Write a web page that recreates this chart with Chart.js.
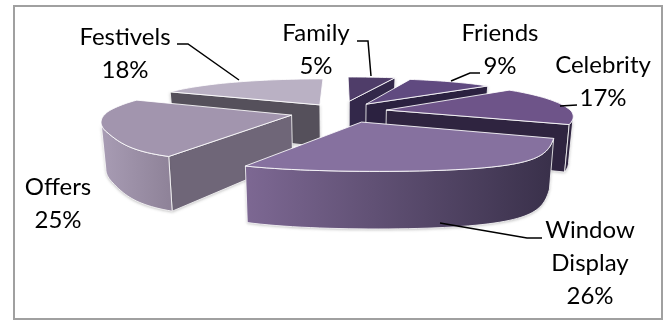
<!DOCTYPE html>
<html>
<head>
<meta charset="utf-8">
<title>Chart</title>
<script src="https://cdn.jsdelivr.net/npm/chart.js@4"></script>
<style>
  html, body { margin: 0; background: #fff; }
  canvas { display: block; }
</style>
</head>
<body>
<canvas id="pie" width="667" height="321"></canvas>
<script>
const categories = ["Family", "Friends", "Celebrity", "Window Display", "Offers", "Festivels"];
const shares = [5, 9, 17, 26, 25, 18];

const topColors = ["#4f3d69", "#604a80", "#6e5489", "#86719f", "#a295ae", "#bab1c4"];
const sideColors = ["#33284a", "#2b2140", "#2f2440", "#39304a", "#6f6678", "#55505b"];
const curveLight = ["#33284a", "#2b2140", "#2f2440", "#7d6893", "#a89cb4", "#bab1c4"];
const curveDark = ["#33284a", "#2b2140", "#2f2440", "#39304a", "#8f8399", "#bab1c4"];
const explode = [30, 25, 25, 29, 28, 22];

// x, y of each label's first line, centred
const labelSpots = [[316, 33], [500, 33], [603, 65], [590, 230], [58, 187], [125, 37]];
const leaders = [
  [[357, 41], [368, 41], [371, 76]],
  [[480, 73], [470, 73], [451, 81]],
  [[577, 105], [560, 106]],
  [[542, 238], [527, 238], [440, 223]],
  [],
  [[177, 44], [188, 44], [239, 80]],
];

// tilted view of the pie plane, u and v in radii, v grows towards the viewer
function project(arc, u, v) {
  const w = v < 0 ? 1 - 0.176 * v : 1 - 0.14 * v - 0.48 * Math.pow(Math.max(v - 0.5, 0), 2);
  return { x: arc.x + (185 * u) / w, y: arc.y + 37 * v + 8 * v * v, v };
}

function drop(arc, p) {
  return { x: arc.x + (p.x - arc.x) * 0.98, y: p.y + 44 + 10.7 * p.v };
}

function tracePath(ctx, pts) {
  ctx.beginPath();
  pts.forEach((p, i) => (i ? ctx.lineTo(p.x, p.y) : ctx.moveTo(p.x, p.y)));
  ctx.closePath();
}

function wall(ctx, arc, pts, fill) {
  const low = pts.map((p) => drop(arc, p)).reverse();
  ctx.save();
  ctx.shadowColor = "rgba(60,60,60,0.35)";
  ctx.shadowBlur = 3;
  ctx.shadowOffsetY = 1;
  tracePath(ctx, pts.concat(low));
  ctx.fillStyle = fill;
  ctx.fill();
  ctx.restore();
  ctx.strokeStyle = "rgba(255,255,255,0.8)";
  ctx.lineWidth = 1;
  ctx.stroke();
}

function drawSlice(ctx, arc, i) {
  const R = arc.outerRadius;
  const mid = (arc.startAngle + arc.endAngle) / 2;
  const off = arc.options.offset / R;
  const ou = Math.cos(mid) * off;
  const ov = Math.sin(mid) * off;
  const apex = project(arc, ou, ov);

  const rim = [];
  const steps = Math.ceil((arc.endAngle - arc.startAngle) / 0.03);
  for (let s = 0; s <= steps; s++) {
    const a = arc.startAngle + ((arc.endAngle - arc.startAngle) * s) / steps;
    rim.push({ a, ...project(arc, ou + Math.cos(a), ov + Math.sin(a)) });
  }

  // flat cut faces, only the ones turned to the viewer
  if (Math.sin(arc.startAngle - Math.PI / 2) > 0) wall(ctx, arc, [apex, rim[0]], sideColors[i]);
  if (Math.sin(arc.endAngle + Math.PI / 2) > 0) wall(ctx, arc, [apex, rim[rim.length - 1]], sideColors[i]);

  // rounded outside, cut at the silhouette
  const near = rim.filter((p) => Math.sin(p.a) > -0.01);
  if (near.length > 1) {
    const xs = near.map((p) => p.x);
    const right = xs.indexOf(Math.max(...xs));
    const left = xs.indexOf(Math.min(...xs));
    const front = near.slice(right, left + 1);
    const g = ctx.createLinearGradient(xs[left], 0, xs[right], 0);
    g.addColorStop(0, curveLight[i]);
    g.addColorStop(1, curveDark[i]);
    wall(ctx, arc, front, g);
  }

  tracePath(ctx, [apex].concat(rim));
  ctx.fillStyle = arc.options.backgroundColor;
  ctx.fill();
  ctx.strokeStyle = "rgba(255,255,255,0.85)";
  ctx.lineWidth = 1;
  ctx.stroke();
}

const pie3d = {
  id: "pie3d",
  beforeDatasetsDraw(chart) {
    const ctx = chart.ctx;
    const arcs = chart.getDatasetMeta(0).data;
    const depthOf = (arc) => Math.sin((arc.startAngle + arc.endAngle) / 2) * arc.options.offset;
    const order = arcs.map((arc, i) => i).sort((a, b) => depthOf(arcs[a]) - depthOf(arcs[b]));
    order.forEach((i) => drawSlice(ctx, arcs[i], i));
    return false;
  },
  afterDraw(chart) {
    const ctx = chart.ctx;
    ctx.save();
    ctx.strokeStyle = "#000";
    ctx.lineWidth = 1.5;
    leaders.forEach((line) => {
      ctx.beginPath();
      line.forEach((p, i) => (i ? ctx.lineTo(p[0], p[1]) : ctx.moveTo(p[0], p[1])));
      ctx.stroke();
    });

    ctx.fillStyle = "#000";
    ctx.font = "24px Lato";
    ctx.textAlign = "center";
    ctx.textBaseline = "middle";
    categories.forEach((name, i) => {
      const lines = name.split(" ").concat(shares[i] + "%");
      lines.forEach((t, n) => ctx.fillText(t, labelSpots[i][0], labelSpots[i][1] + n * 33));
    });

    ctx.strokeStyle = "#a0a0a0";
    ctx.lineWidth = 2;
    ctx.strokeRect(14, 6, 648, 313);
    ctx.restore();
  },
};

new Chart(document.getElementById("pie"), {
  type: "pie",
  data: {
    labels: categories,
    datasets: [{ data: shares, backgroundColor: topColors, offset: explode, borderWidth: 0 }],
  },
  options: {
    responsive: false,
    animation: false,
    radius: 100,
    layout: { padding: { left: 15, bottom: 98 } },
    plugins: { legend: { display: false }, tooltip: { enabled: false } },
  },
  plugins: [pie3d],
});
</script>
</body>
</html>
